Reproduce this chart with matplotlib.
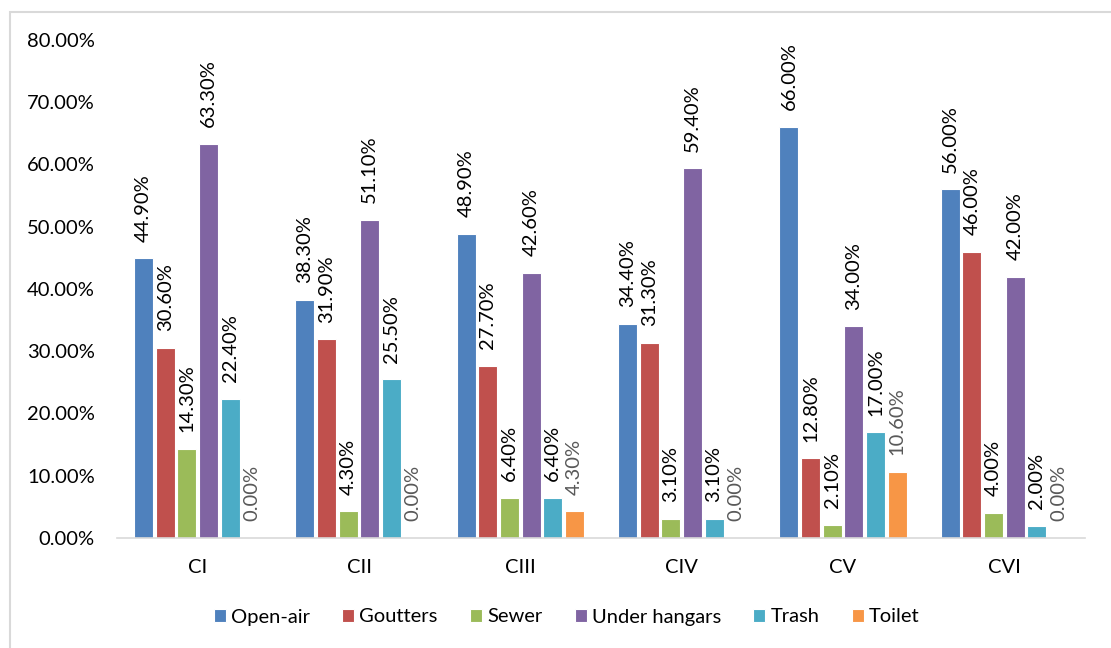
import numpy as np
import matplotlib.pyplot as plt
from matplotlib.patches import Rectangle

plt.rcParams['font.family'] = ['Lato', 'DejaVu Sans']

# ------------------------------------------------------------------
# Data (percent)
# ------------------------------------------------------------------
categories = ["CI", "CII", "CIII", "CIV", "CV", "CVI"]
series_names = ["Open-air", "Goutters", "Sewer", "Under hangars", "Trash", "Toilet"]
open_air = [44.9, 38.3, 48.9, 34.4, 66.0, 56.0]
goutters = [30.6, 31.9, 27.7, 31.3, 12.8, 46.0]
sewer = [14.3, 4.3, 6.4, 3.1, 2.1, 4.0]
under_hangars = [63.3, 51.1, 42.6, 59.4, 34.0, 42.0]
trash = [22.4, 25.5, 6.4, 3.1, 17.0, 2.0]
toilet = [0.0, 0.0, 4.3, 0.0, 10.6, 0.0]
y_ticks = [0, 10, 20, 30, 40, 50, 60, 70, 80]

series = [open_air, goutters, sewer, under_hangars, trash, toilet]
colors = ["#4F81BD", "#C0504D", "#9BBB59", "#8064A2", "#4BACC6", "#F79646"]
label_colors = ["#000000"] * 5 + ["#595959"]

fig = plt.figure(figsize=(11.11, 6.48), dpi=100)
ax = fig.add_axes([117 / 1111, 1 - 538 / 648, (1085 - 117) / 1111, (538 - 40) / 648])

# outer chart frame
fig.patches.append(Rectangle((10 / 1111, -0.1), 1.2, 1.1 - 12 / 648,
                             transform=fig.transFigure, fill=False,
                             edgecolor="#D9D9D9", linewidth=1.5))

x = np.arange(len(categories))
slot = 0.134
for i, (vals, name) in enumerate(zip(series, series_names)):
    pos = x + (i - 2.5) * slot
    ax.bar(pos, vals, width=0.118, color=colors[i], edgecolor="white",
           linewidth=0.8, label=name)
    for px, v in zip(pos, vals):
        ax.annotate(f"{v:.2f}%", xy=(px, v), xytext=(0, 12),
                    textcoords="offset points", rotation=90,
                    ha="center", va="bottom", fontsize=14.5,
                    color=label_colors[i])

ax.set_xlim(-0.5, 5.5)
ax.set_ylim(0, 80)
ax.set_xticks(x)
ax.set_xticklabels(categories, fontsize=14.5)
ax.set_yticks(y_ticks)
ax.set_yticklabels([f"{t:.2f}%" for t in y_ticks], fontsize=14.5)
ax.tick_params(axis="both", length=0)
ax.tick_params(axis="y", pad=16)
ax.tick_params(axis="x", pad=15)
for side in ["top", "right", "left"]:
    ax.spines[side].set_visible(False)
ax.spines["bottom"].set_color("#D9D9D9")
ax.spines["bottom"].set_linewidth(1.2)

fig.legend(loc="center", bbox_to_anchor=(0.51, 1 - 617 / 648), ncol=6,
           frameon=False, fontsize=14.5, handlelength=0.6, handleheight=0.6,
           handletextpad=0.25, columnspacing=1.6)

fig.savefig("out.png", dpi=100)
